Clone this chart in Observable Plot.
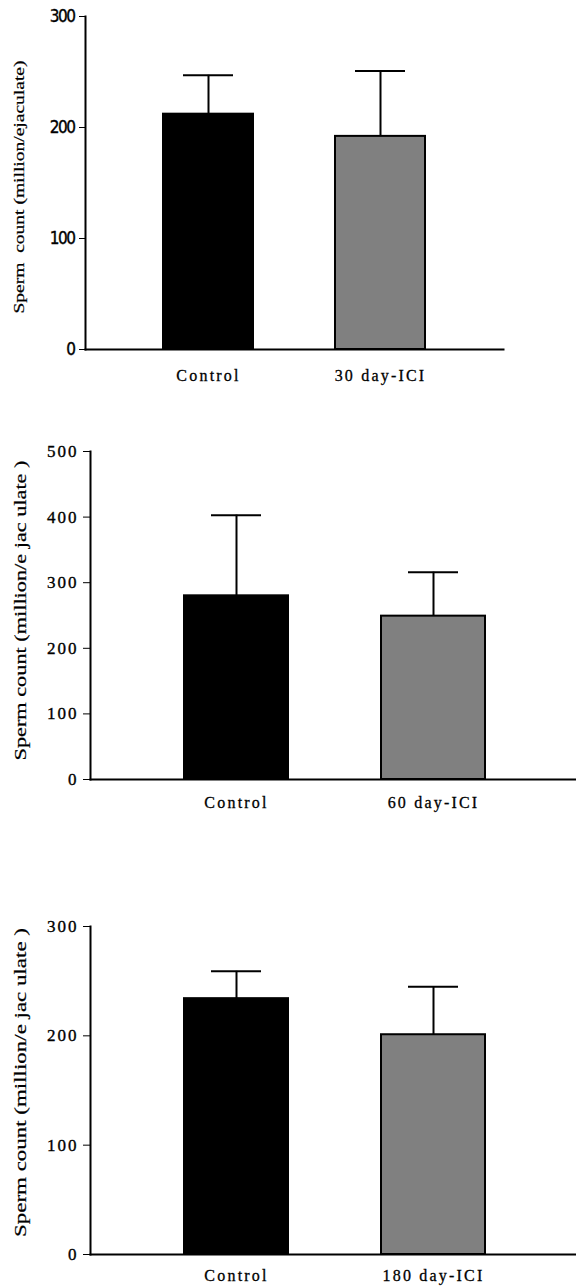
<!DOCTYPE html>
<html>
<head>
<meta charset="utf-8">
<script src="https://cdn.jsdelivr.net/npm/d3@7"></script>
<script src="https://cdn.jsdelivr.net/npm/@observablehq/plot@0.6"></script>
<style>
html, body { margin: 0; padding: 0; background: #fff; }
#c svg { display: block; }
</style>
</head>
<body>
<div id="c"></div>
<script>
// Panel 1: 30 days
const groups1 = ["Control", "30 day-ICI"];
const means1 = [212, 192];
const sds1 = [35, 59];
const ticks1 = [0, 100, 200, 300];
const yLabel1 = "Sperm  count (million/ejaculate)";

// Panel 2: 60 days
const groups2 = ["Control", "60 day-ICI"];
const means2 = [280, 249];
const sds2 = [123, 67];
const ticks2 = [0, 100, 200, 300, 400, 500];
const yLabel2 = "Sperm count (million/e jac ulate )";

// Panel 3: 180 days
const groups3 = ["Control", "180 day-ICI"];
const means3 = [234, 201];
const sds3 = [25, 44];
const ticks3 = [0, 100, 200, 300];
const yLabel3 = "Sperm count (million/e jac ulate )";

const barColors = ["#000000", "#808080"];
const serif = "'Liberation Serif', 'Times New Roman', serif";

function panel(cfg) {
  const data = cfg.groups.map((g, i) => ({
    group: g, mean: cfg.means[i], upper: cfg.means[i] + cfg.sds[i], color: barColors[i]
  }));
  const chart = Plot.plot({
    width: 576,
    height: cfg.height,
    marginTop: cfg.mt,
    marginBottom: cfg.mb,
    marginLeft: cfg.ml,
    marginRight: cfg.mr,
    x: {domain: cfg.groups, range: cfg.xRange, paddingInner: cfg.pi, paddingOuter: cfg.po, axis: null},
    y: {domain: [0, cfg.ticks[cfg.ticks.length - 1]], axis: null},
    style: {fontFamily: serif, color: "black", background: "white"},
    marks: [
      Plot.barY(data, {x: "group", y: "mean", fill: "color", stroke: "black", strokeWidth: 2}),
      Plot.ruleX(data, {x: "group", y1: "mean", y2: "upper", stroke: "black", strokeWidth: 2}),
      Plot.tickY(data, {x: "group", y: "upper", stroke: "black", strokeWidth: 2, insetLeft: cfg.capInset, insetRight: cfg.capInset}),
      Plot.frame({anchor: "left", stroke: "black", strokeWidth: 2}),
      Plot.frame({anchor: "bottom", stroke: "black", strokeWidth: 2}),
      Plot.axisY({
        ticks: cfg.ticks, tickFormat: d => String(d), tickSize: cfg.tickSize, tickPadding: cfg.tickPad,
        label: cfg.label, labelAnchor: "center", labelOffset: cfg.labelOffset, labelArrow: "none"
      }),
      Plot.axisX({tickSize: 0, tickPadding: cfg.xPad, label: null})
    ]
  });
  const svg = d3.select(chart);
  svg.selectAll('g[aria-label="y-axis tick label"] text')
    .style("font-size", cfg.tickFontSize + "px")
    .style("font-family", cfg.tickFont)
    .style("letter-spacing", cfg.tickLS + "px")
    .style("stroke", "black")
    .style("stroke-width", "0.35px");
  svg.selectAll('g[aria-label="x-axis tick label"] text')
    .style("font-size", "16px")
    .style("font-family", serif)
    .style("letter-spacing", "2.2px")
    .style("stroke", "black")
    .style("stroke-width", "0.3px");
  const lab = svg.select('g[aria-label="y-axis label"]');
  lab.selectAll("text")
    .style("font-size", cfg.labelFont + "px")
    .style("font-family", serif)
    .style("stroke", "black")
    .style("stroke-width", "0.2px")
    .attr("textLength", cfg.labelLen)
    .attr("lengthAdjust", "spacingAndGlyphs");
  const prev = lab.attr("transform") || "";
  lab.attr("transform", `translate(0,${cfg.labelShift}) ${prev}`);
  return chart;
}

const c = document.getElementById("c");
c.appendChild(panel({
  groups: groups1, means: means1, sds: sds1, ticks: ticks1, label: yLabel1,
  height: 400, mt: 16, mb: 51, ml: 85, mr: 73, xRange: [85, 503], pi: 0.477, po: 0.4535,
  capInset: 20, tickSize: 6, tickPad: 5, tickFontSize: 17, tickFont: "'DejaVu Sans Condensed', 'DejaVu Sans', sans-serif",
  tickLS: -1.5, labelOffset: 71, labelFont: 14, labelLen: 253, labelShift: 4, xPad: 20
}));
c.appendChild(panel({
  groups: groups2, means: means2, sds: sds2, ticks: ticks2, label: yLabel2,
  height: 430, mt: 51, mb: 51, ml: 90, mr: 0, xRange: [90, 579], pi: 0.47, po: 0.47,
  capInset: 27, tickSize: 7, tickPad: 5, tickFontSize: 17, tickFont: serif,
  tickLS: 2, labelOffset: 76, labelFont: 16, labelLen: 300, labelShift: -5, xPad: 17
}));
c.appendChild(panel({
  groups: groups3, means: means3, sds: sds3, ticks: ticks3, label: yLabel3,
  height: 457, mt: 96, mb: 33, ml: 90, mr: 0, xRange: [90, 579], pi: 0.47, po: 0.47,
  capInset: 27, tickSize: 7, tickPad: 5, tickFontSize: 17, tickFont: serif,
  tickLS: 2, labelOffset: 76, labelFont: 16, labelLen: 309, labelShift: -8, xPad: 15
}));
</script>
</body>
</html>
